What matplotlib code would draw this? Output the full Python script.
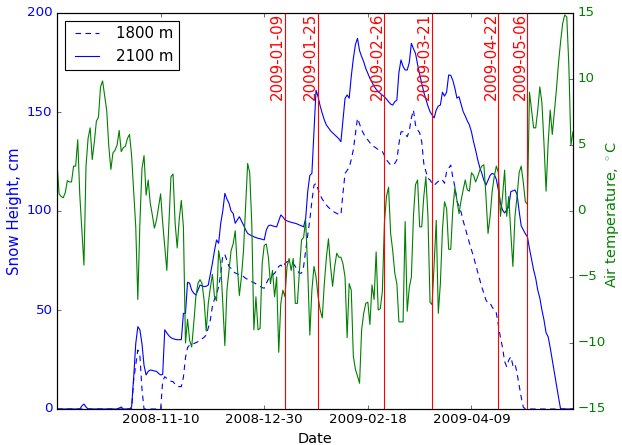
import numpy as np
import matplotlib
matplotlib.use('Agg')
import matplotlib.pyplot as plt
import matplotlib.dates as mdates

plt.style.use('classic')
plt.rcParams['savefig.facecolor'] = 'white'
plt.rcParams['figure.facecolor'] = 'white'

# daily series starting 2008-09-21
start_date = np.datetime64('2008-09-21')

snow_2100 = [
    0, 0, 0, 0, 0, 0, 0, 0, 0, 0,
    0, 0, 1.5, 2.5, 1.0, 0, 0, 0, 0, 0,
    0, 0, 0, 0, 0, 0, 0, 0, 0, 0,
    0.5, 1.0, 0, 0, 0, 0, 1.0, 16, 33, 41.6,
    40, 33, 22, 17.2, 19, 19.7, 19.5, 19.2, 19, 18,
    17.2, 17.5, 40, 38.4, 37, 36, 35.5, 35.2, 35, 35,
    35, 48.3, 48.3, 64, 63.5, 60, 58.5, 57.6, 60, 62.6,
    62.2, 61.8, 62, 62.6, 68, 73.6, 80, 85.4, 83.7, 93.8,
    100, 108.9, 106, 103.9, 100, 98.8, 93.8, 95.5, 97.1, 95,
    92.9, 90.5, 88.7, 88, 87.5, 87, 86.6, 86.2, 86, 85.7,
    85.4, 90.4, 92.5, 92.9, 92.5, 92.2, 92, 95, 98, 97,
    95.5, 95, 94.6, 94.3, 94, 93.8, 93.4, 92.9, 92.5, 92,
    96.3, 110, 118, 119, 140, 161, 157.7, 153, 149.3, 146,
    143.4, 142, 140.5, 139.5, 138.5, 137.5, 136.5, 135, 146, 156.9,
    158.6, 157, 168, 177, 184, 187.2, 181, 178, 175.4, 172,
    169.5, 167, 165, 163, 161.5, 160.2, 159.4, 158.5, 157.7, 156.5,
    155.2, 154, 153.5, 155.2, 156, 170, 176.3, 173, 171.2, 171.2,
    175, 184.7, 182, 179.6, 174, 169, 164.5, 160, 156.5, 153,
    150.2, 148.5, 147, 151, 153, 153.5, 160, 158, 160, 168.7,
    168.5, 166, 162, 157, 157.7, 154, 150.2, 148, 145.5, 143.5,
    140, 135, 130.8, 126, 122, 119, 115.5, 113.1, 115.5, 118,
    119, 118.5, 116, 110.6, 104, 100.5, 99, 100.5, 102.2, 109.8,
    110.2, 110.6, 108.5, 100, 92.5, 90.5, 88.5, 87, 81, 75.5,
    70.2, 66, 60, 56, 50, 45, 38.5, 36.5, 31, 24.7,
    18.5, 12, 6, 0, 0, 0, 0, 0, 0, 0,
]

snow_1800 = [
    0, 0, 0, 0, 0, 0, 0, 0, 0, 0,
    0, 0, 0, 0, 0, 0, 0, 0, 0, 0,
    0, 0, 0, 0, 0, 0, 0, 0, 0, 0,
    0, 0, 0, 0, 0, 0, 0, 14.6, 22, 29.8,
    27, 10, 0, 0, 0, 0, 0, 0, 0, 0,
    0, 14, 16.3, 15.5, 14.6, 14, 13.8, 12.5, 11.5, 11.3,
    11.3, 16, 26, 31, 32.3, 33, 33, 33.5, 34, 34.8,
    35.5, 36.2, 37.4, 41, 45, 52, 55.5, 58, 61.8, 68,
    77.8, 78, 75, 72, 71, 69.5, 68.7, 68.3, 67.7, 67.2,
    66.9, 66, 65.5, 64.8, 64.3, 63.8, 63.2, 62.6, 62, 61.3,
    61, 63.5, 65.5, 67, 67.7, 68.5, 70, 72, 72.7, 71.5,
    73.5, 74.4, 74.2, 74, 73.5, 72, 70, 68.5, 68.7, 72,
    80, 88, 95.5, 105, 113, 114, 111, 108, 106, 104.5,
    103, 101.8, 101, 100, 99.3, 98.8, 98.3, 98, 109, 119,
    120.5, 122, 126, 131, 139, 146.8, 144, 140.9, 139, 137,
    135.9, 134.5, 133, 132.5, 131.8, 131, 130.5, 130, 128, 125.8,
    124.5, 123.2, 123.5, 124, 125.8, 134, 140, 140, 139, 137.5,
    140.5, 147, 151, 143.4, 141, 139.5, 135, 124, 120, 116.5,
    115.7, 114, 113, 114, 115, 116, 115.7, 114, 119.9, 121.6,
    123.2, 117, 112.3, 105, 102.2, 99.5, 95, 91.5, 87.5, 84,
    80.5, 76.9, 73, 69, 65, 61.5, 58.4, 55, 53.4, 53.4,
    51.5, 50, 48.5, 42.4, 36, 31, 24, 21.4, 24.7, 26.4,
    22, 23, 18, 12, 6, 1, 0, 0, 0, 0,
    0, 0, 0, 0, 0, 0, 0, 0, 0, 0,
    0, 0, 0, 0, 0, 0, 0, 0, 0, 0,
]

air_temp = [
    3.7, 1.3, 1.1, 1.0, 1.4, 2.3, 2.2, 2.2, 3.4, 3.4,
    5.4, 1.2, -1.5, -4.1, 3.4, 5.5, 6.3, 3.9, 5.2, 6.8,
    7.1, 9.4, 9.85, 8.7, 7.6, 4.9, 3.15, 4.4, 4.6, 5.0,
    6.1, 4.5, 4.8, 4.9, 5.5, 5.8, 4.2, 1.5, -1.2, -6.7,
    -0.9, 3.2, 4.2, 1.2, 2.35, 0.6, -0.3, -1.3, -0.7, 0.3,
    1.3, -0.9, -2.7, -4.5, -0.9, 2.6, 2.8, -0.9, -2.8, -0.6,
    0.8, -1.2, -10.0, -8.2, -9.8, -10.3, -8.5, -6.5, -5.5, -5.2,
    -5.5, -6.8, -9.1, -7.0, -5.8, -4.8, -6.5, -6.8, -3.0, -4.0,
    -7.0, -10.2, -6.0, -4.5, -3.0, -2.5, -1.5, -4.2, -6.4, -5.0,
    -3.0, 0.3, 3.6, 2.9, -1.0, -9.0, -6.5, -9.0, -8.9, -4.0,
    -2.6, -2.5, -3.5, -5.5, -4.5, -6.5, -5.0, -10.7, -7.0, -6.0,
    -6.5, -4.2, -3.6, -4.5, -3.6, -7.0, -7.0, -4.5, -2.2, -2.0,
    -0.7, -4.5, -9.4, -6.0, -4.2, -5.0, -6.5, -7.5, -8.1, -5.5,
    -3.5, -2.1, -4.2, -5.7, -4.2, -3.2, -3.5, -3.5, -4.0, -5.0,
    -9.6, -5.5, -6.0, -11.0, -12.0, -12.5, -13.05, -9.0, -7.75, -7.0,
    -6.9, -8.6, -5.6, -6.7, -3.1, -7.5, -7.4, -6.1, -0.9, 1.1,
    1.8, -1.7, -3.0, -4.7, -5.5, -8.4, -8.4, -8.4, -0.8, -7.6,
    -5.8, -5.0, -0.4, 2.0, 2.35, -1.2, -1.2, 1.1, 2.6, -0.4,
    -6.9, -7.1, -4.0, -0.7, -7.75, -5.5, -1.4, 0.7, 0.2, -2.9,
    -2.9, 0.1, 1.8, 0.8, -0.2, 0.8, 1.6, 2.35, 1.6, 1.5,
    2.9, 2.7, 2.2, 2.6, 3.1, 3.4, 3.5, 1.1, -1.7, -0.4,
    1.5, 2.6, 3.4, 2.9, -0.4, 1.1, 3.1, -0.4, 1.1, -1.7,
    -4.2, -0.4, 1.1, 2.9, 3.4, 2.2, 0.7, 0.5, 9.0, 7.65,
    6.3, 6.3, 7.65, 9.4, 8.2, 5.1, 1.5, 5.1, 7.65, 5.8,
    7.5, 9.2, 11.2, 12.8, 14.2, 14.85, 14.7, 11.0, 5.0, 6.0,
]

event_dates = ['2009-01-09', '2009-01-25', '2009-02-26',
               '2009-03-21', '2009-04-22', '2009-05-06']
xtick_dates = ['2008-11-10', '2008-12-30', '2009-02-18', '2009-04-09']

dates = start_date + np.arange(len(air_temp))

fig = plt.figure(figsize=(622 / 80, 445 / 80), dpi=80)
ax = fig.add_axes([57 / 622, 36 / 445, 516 / 622, 396 / 445])
ax2 = ax.twinx()

ax.plot(dates, snow_1800, 'b--', dashes=(5, 4), label='1800 m')
ax.plot(dates, snow_2100, 'b-', label='2100 m')
ax2.plot(dates, air_temp, 'g-')

for d in event_dates:
    dd = np.datetime64(d)
    ax2.axvline(dd, color='r')
    ax2.text(dd, 15, d, rotation=90, color='r', ha='right', va='top',
             fontsize=13.5)

ax.set_ylim(0, 200)
ax2.set_ylim(-15, 15)
ax.set_xlim(dates[0], dates[-1])
ax.set_xticks([np.datetime64(d) for d in xtick_dates])
ax.xaxis.set_major_formatter(mdates.DateFormatter('%Y-%m-%d'))
ax.set_yticks([0, 50, 100, 150, 200])
ax2.set_yticks([-15, -10, -5, 0, 5, 10, 15])

ax.set_xlabel('Date', fontsize=13)
ax.set_ylabel('Snow Height, cm', color='b', fontsize=13.5)
ax2.set_ylabel(r'Air temperature, $^\circ$C', color='g', fontsize=13)
ax.yaxis.set_label_coords(-0.068, 0.5)
ax2.yaxis.set_label_coords(1.058, 0.49)
for t in ax.get_yticklabels():
    t.set_color('b')
for t in ax2.get_yticklabels():
    t.set_color('g')

ax.legend(loc='upper left', fontsize=13.5, handlelength=2.2)

fig.savefig('out.png', dpi=80)
